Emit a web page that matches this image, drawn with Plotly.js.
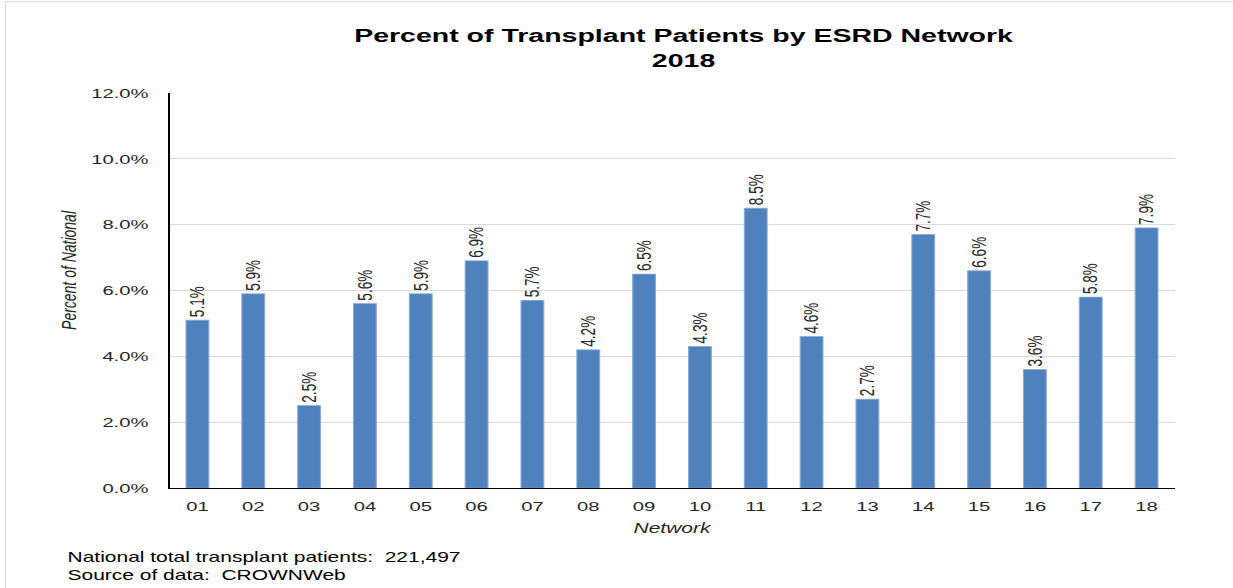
<!DOCTYPE html>
<html>
<head>
<meta charset="utf-8">
<script src="https://cdn.plot.ly/plotly-3.0.1.min.js"></script>
<style>
  html, body { margin: 0; padding: 0; background: #ffffff; overflow: hidden; }
  #wrap { position: absolute; left: 0; top: 0; width: 822px; height: 588px; transform-origin: 0 0; transform: scaleX(1.5); }
  #frame { position: absolute; left: 5px; top: 1px; width: 1300px; height: 700px; border-left: 1px solid #d9d9d9; border-top: 1px solid #d9d9d9; pointer-events: none; }
</style>
</head>
<body>
<div id="wrap"><div id="chart" style="width:822px;height:588px;"></div></div>
<div id="frame"></div>
<script>
// Data
var networks = ["01","02","03","04","05","06","07","08","09","10","11","12","13","14","15","16","17","18"];
var pctNational = [0.051,0.059,0.025,0.056,0.059,0.069,0.057,0.042,0.065,0.043,0.085,0.046,0.027,0.077,0.066,0.036,0.058,0.079];
var yTickVals = [0, 0.02, 0.04, 0.06, 0.08, 0.10, 0.12];
var chartTitle = "Percent of Transplant Patients by ESRD Network<br>2018";
var xTitle = "Network";
var yTitle = "Percent of National";
var footLines = ["National total transplant patients:\u00a0 221,497", "Source of data:\u00a0 CROWNWeb"];

var FONT = "Liberation Sans, Arial, sans-serif";
var trace = {
  type: "bar",
  x: networks,
  y: pctNational,
  marker: { color: "#4f81bd", line: { color: "#86a8d4", width: 0.75 } },
  texttemplate: "%{y:.1%}",
  textposition: "outside",
  textangle: -90,
  constraintext: "none",
  cliponaxis: false,
  textfont: { family: FONT, size: 13.6, color: "#262626" },
  hoverinfo: "skip"
};

var layout = {
  width: 822,
  height: 588,
  margin: { l: 113, r: 39, t: 93, b: 100 },
  paper_bgcolor: "#ffffff",
  plot_bgcolor: "#ffffff",
  showlegend: false,
  bargap: 0.593,
  title: {
    text: chartTitle,
    font: { family: FONT, size: 19, color: "#000000", weight: "bold" },
    xref: "container", x: 455.7 / 822, xanchor: "center",
    yref: "container", y: 1 - 42 / 588, yanchor: "top"
  },
  xaxis: {
    type: "category",
    showline: true, linecolor: "#000000", linewidth: 1.3,
    showgrid: false, ticks: "", ticklabelstandoff: 6,
    tickfont: { family: FONT, size: 13.5, color: "#262626" },
    title: { text: xTitle, font: { family: FONT, size: 14, color: "#262626", style: "italic" }, standoff: 9 }
  },
  yaxis: {
    range: [0, 0.12],
    tickvals: yTickVals,
    tickformat: ".1%",
    showline: true, linecolor: "#000000", linewidth: 1.3,
    showgrid: true, gridcolor: "#d9d9d9", gridwidth: 1,
    zeroline: false, ticks: "", ticklabelstandoff: 10,
    tickfont: { family: FONT, size: 13.5, color: "#262626" }
  },
  annotations: [
    { text: yTitle, xref: "paper", yref: "paper", x: -67 / 670, y: (488 - 270) / 395, xanchor: "center", yanchor: "middle",
      textangle: -90, showarrow: false, font: { family: FONT, size: 14, color: "#262626", style: "italic" } },
    { text: footLines.join("<br>"), xref: "paper", yref: "paper", x: -70 / 670, y: -(566 - 488) / 395, xanchor: "left", yanchor: "middle",
      align: "left", showarrow: false, font: { family: FONT, size: 14, color: "#000000" } }
  ]
};

Plotly.newPlot("chart", [trace], layout, { staticPlot: true, displayModeBar: false, responsive: false });
</script>
</body>
</html>
